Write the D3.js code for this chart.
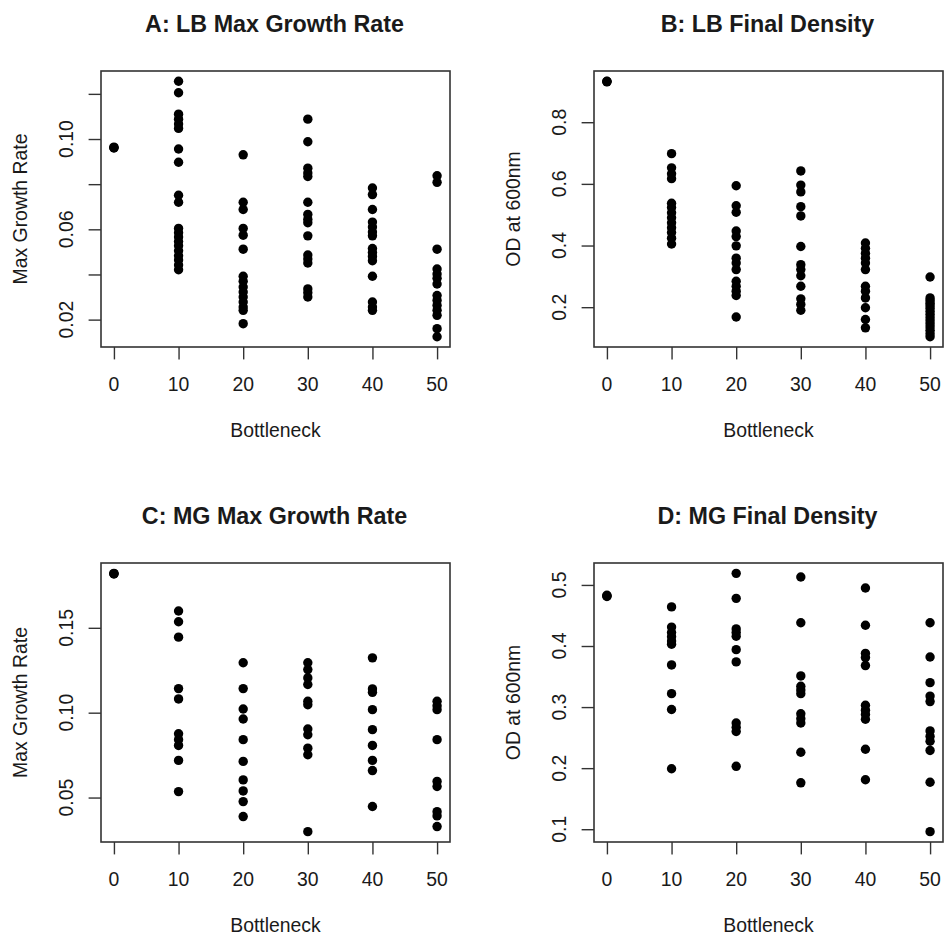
<!DOCTYPE html>
<html>
<head>
<meta charset="utf-8">
<script src="https://cdn.jsdelivr.net/npm/d3@7"></script>
<style>
  html, body { margin: 0; padding: 0; background: #fff; }
  svg { display: block; }
  text { font-family: "Liberation Sans", Arial, Helvetica, sans-serif; fill: #1a1a1a; }
</style>
</head>
<body>
<svg id="chart" width="945" height="936"></svg>
<script>
// Bottleneck levels shared by all four panels
const bottlenecks = [0, 10, 20, 30, 40, 50];
const xTickValues = [0, 10, 20, 30, 40, 50];

// A: LB max growth rate, one array per bottleneck level
const lbMaxGrowth = [
  [0.0962, 0.0960, 0.0964],
  [0.1256, 0.1205, 0.1110, 0.1088, 0.1066, 0.1047, 0.0956, 0.0897, 0.0751, 0.0720,
   0.0604, 0.0585, 0.0566, 0.0546, 0.0527, 0.0505, 0.0483, 0.0464, 0.0442, 0.0421],
  [0.0930, 0.0720, 0.0688, 0.0604, 0.0574, 0.0512, 0.0392, 0.0370, 0.0344, 0.0322,
   0.0300, 0.0278, 0.0256, 0.0241, 0.0182],
  [0.1088, 0.0988, 0.0871, 0.0849, 0.0834, 0.0720, 0.0666, 0.0644, 0.0629, 0.0571,
   0.0486, 0.0468, 0.0451, 0.0336, 0.0319, 0.0300],
  [0.0783, 0.0754, 0.0688, 0.0632, 0.0610, 0.0588, 0.0571, 0.0515, 0.0497, 0.0480,
   0.0461, 0.0392, 0.0278, 0.0256, 0.0241],
  [0.0837, 0.0808, 0.0512, 0.0424, 0.0402, 0.0383, 0.0358, 0.0307, 0.0285, 0.0263,
   0.0241, 0.0219, 0.0160, 0.0124]
];

// B: LB final density (OD600)
const lbFinalOD = [
  [0.932, 0.931, 0.933],
  [0.698, 0.652, 0.633, 0.617, 0.537, 0.523, 0.506, 0.490, 0.474, 0.458, 0.442, 0.424, 0.405],
  [0.594, 0.529, 0.508, 0.447, 0.429, 0.399, 0.359, 0.343, 0.322, 0.284, 0.268, 0.252, 0.238, 0.168],
  [0.642, 0.596, 0.574, 0.526, 0.496, 0.397, 0.338, 0.322, 0.302, 0.268, 0.227, 0.209, 0.190],
  [0.408, 0.391, 0.375, 0.359, 0.343, 0.322, 0.268, 0.252, 0.230, 0.198, 0.160, 0.133],
  [0.298, 0.230, 0.222, 0.213, 0.205, 0.196, 0.186, 0.176, 0.166, 0.156, 0.146, 0.136, 0.125, 0.114, 0.104]
];

// C: MG max growth rate
const mgMaxGrowth = [
  [0.1819, 0.1817, 0.1821],
  [0.1599, 0.1536, 0.1445, 0.1142, 0.1081, 0.0876, 0.0841, 0.0807, 0.0719, 0.0535],
  [0.1294, 0.1142, 0.1022, 0.0963, 0.0841, 0.0713, 0.0604, 0.0539, 0.0476, 0.0388],
  [0.1294, 0.1254, 0.1205, 0.1166, 0.1067, 0.1047, 0.0904, 0.0870, 0.0791, 0.0752, 0.0299],
  [0.1323, 0.1140, 0.1120, 0.1018, 0.0900, 0.0807, 0.0719, 0.0659, 0.0447],
  [0.1067, 0.1041, 0.1018, 0.0841, 0.0595, 0.0565, 0.0417, 0.0392, 0.0329]
];

// D: MG final density (OD600)
const mgFinalOD = [
  [0.482, 0.481, 0.483],
  [0.464, 0.431, 0.422, 0.415, 0.408, 0.403, 0.369, 0.322, 0.296, 0.199],
  [0.519, 0.478, 0.428, 0.422, 0.416, 0.394, 0.374, 0.274, 0.267, 0.260, 0.203],
  [0.513, 0.438, 0.351, 0.334, 0.328, 0.322, 0.289, 0.281, 0.274, 0.226, 0.176],
  [0.495, 0.434, 0.388, 0.381, 0.368, 0.303, 0.295, 0.288, 0.280, 0.231, 0.181],
  [0.438, 0.382, 0.340, 0.318, 0.309, 0.261, 0.252, 0.244, 0.229, 0.177, 0.096]
];

// Axis ticks and which ones carry a label
const yTicksA = [0.02, 0.04, 0.06, 0.08, 0.10, 0.12];
const yLabelsA = [0.02, 0.06, 0.10];
const yTicksB = [0.2, 0.4, 0.6, 0.8];
const yTicksC = [0.05, 0.10, 0.15];
const yTicksD = [0.1, 0.2, 0.3, 0.4, 0.5];

const titles = ["A: LB Max Growth Rate", "B: LB Final Density", "C: MG Max Growth Rate", "D: MG Final Density"];
const yTitles = ["Max Growth Rate", "OD at 600nm", "Max Growth Rate", "OD at 600nm"];
const xTitle = "Bottleneck";

const panels = [
  { values: lbMaxGrowth, ticks: yTicksA, labels: yLabelsA, fmt: d3.format(".2f"), left: 101, top: 71,  bottom: 347 },
  { values: lbFinalOD,   ticks: yTicksB, labels: yTicksB,  fmt: d3.format(".1f"), left: 594, top: 71,  bottom: 347 },
  { values: mgMaxGrowth, ticks: yTicksC, labels: yTicksC,  fmt: d3.format(".2f"), left: 101, top: 563, bottom: 842 },
  { values: mgFinalOD,   ticks: yTicksD, labels: yTicksD,  fmt: d3.format(".1f"), left: 594, top: 563, bottom: 842 }
];

const boxWidth = 349;
const tickLen = 12.4;
const fontSize = 19.4;
const titleSize = 23.3;
const pointR = 4.7;

const svg = d3.select("#chart");
svg.append("rect").attr("width", 945).attr("height", 936).attr("fill", "#fff");

// pad a range by 4% on each side, like a base-graphics plot
function padded(ext) {
  const p = (ext[1] - ext[0]) * 0.04;
  return [ext[0] - p, ext[1] + p];
}

panels.forEach((p, i) => {
  const right = p.left + boxWidth;
  const g = svg.append("g");

  const x = d3.scaleLinear().domain(padded(d3.extent(bottlenecks))).range([p.left, right]);
  const allVals = p.values.flat();
  const y = d3.scaleLinear().domain(padded(d3.extent(allVals))).range([p.bottom, p.top]);

  // points
  const pts = [];
  p.values.forEach((arr, k) => arr.forEach(v => pts.push({ b: bottlenecks[k], v })));
  g.append("g").selectAll("circle").data(pts).join("circle")
    .attr("cx", d => x(d.b))
    .attr("cy", d => y(d.v))
    .attr("r", pointR)
    .attr("fill", "#000");

  // x axis
  const xAxis = d3.axisBottom(x).tickValues(xTickValues).tickSize(tickLen).tickPadding(0).tickFormat(() => "");
  const xa = g.append("g").attr("transform", `translate(0,${p.bottom})`).call(xAxis);
  xa.select(".domain").remove();
  xa.selectAll("line").attr("stroke", "#333").attr("stroke-width", 1.4);
  g.append("g").selectAll("text").data(xTickValues).join("text")
    .attr("x", d => x(d))
    .attr("y", p.bottom + 43.7)
    .attr("text-anchor", "middle")
    .attr("font-size", fontSize)
    .text(d => d);

  // y axis
  const yAxis = d3.axisLeft(y).tickValues(p.ticks).tickSize(tickLen).tickFormat(() => "");
  const ya = g.append("g").attr("transform", `translate(${p.left},0)`).call(yAxis);
  ya.select(".domain").remove();
  ya.selectAll("line").attr("stroke", "#333").attr("stroke-width", 1.4);
  g.append("g").selectAll("text").data(p.labels).join("text")
    .attr("transform", d => `translate(${p.left - 27.7},${y(d)}) rotate(-90)`)
    .attr("text-anchor", "middle")
    .attr("font-size", fontSize)
    .text(d => p.fmt(d));

  // frame
  g.append("rect")
    .attr("x", p.left).attr("y", p.top)
    .attr("width", boxWidth).attr("height", p.bottom - p.top)
    .attr("fill", "none").attr("stroke", "#333").attr("stroke-width", 1.6);

  // titles
  g.append("text")
    .attr("x", p.left + boxWidth / 2 - 1)
    .attr("y", p.top - 39.3)
    .attr("text-anchor", "middle")
    .attr("font-size", titleSize)
    .attr("font-weight", "bold")
    .text(titles[i]);

  g.append("text")
    .attr("x", p.left + boxWidth / 2)
    .attr("y", p.bottom + 89.7)
    .attr("text-anchor", "middle")
    .attr("font-size", fontSize)
    .text(xTitle);

  g.append("text")
    .attr("transform", `translate(${p.left - 74.3},${(p.top + p.bottom) / 2}) rotate(-90)`)
    .attr("text-anchor", "middle")
    .attr("font-size", fontSize)
    .text(yTitles[i]);
});
</script>
</body>
</html>
